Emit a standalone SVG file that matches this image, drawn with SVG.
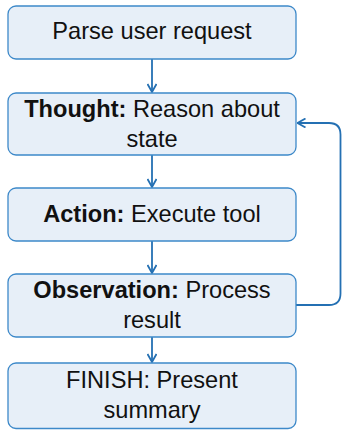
<svg xmlns="http://www.w3.org/2000/svg" width="342" height="430" viewBox="0 0 342 430">
<defs>
<style>
.box{fill:#e7eff8;stroke:#3d89c9;stroke-width:1.3}
.t{font-family:"Liberation Sans",Arial,sans-serif;font-size:23.6px;fill:#111;text-anchor:middle}
.b{font-weight:bold}
.c{fill:none;stroke:#2470b3;stroke-width:1.8}
</style>
<marker id="ah" viewBox="0 0 10 10" refX="9" refY="5" markerWidth="10" markerHeight="10" markerUnits="userSpaceOnUse" orient="auto">
<path d="M1,0.5 L9,5 L1,9.5" fill="none" stroke="#2470b3" stroke-width="1.8"/>
</marker>
</defs>
<rect width="342" height="430" fill="#fff"/>
<g id="connectors">
<line class="c" x1="152" y1="59" x2="152" y2="92" marker-end="url(#ah)"/>
<line class="c" x1="152" y1="155" x2="152" y2="187" marker-end="url(#ah)"/>
<line class="c" x1="152" y1="241" x2="152" y2="273" marker-end="url(#ah)"/>
<line class="c" x1="152" y1="337" x2="152" y2="362" marker-end="url(#ah)"/>
<path class="c" d="M296,305 H329 Q340.5,305 340.5,293.5 V134.5 Q340.5,123 329,123 H297.5" marker-end="url(#ah)"/>
</g>
<g id="n1">
<rect class="box" x="8" y="6" width="288" height="53" rx="8"/>
<text class="t" x="152" y="39">Parse user request</text>
</g>
<g id="n2">
<rect class="box" x="8" y="93" width="288" height="62" rx="8"/>
<text class="t" x="152" y="117"><tspan class="b">Thought:</tspan> Reason about</text>
<text class="t" x="152" y="147">state</text>
</g>
<g id="n3">
<rect class="box" x="8" y="188" width="288" height="53" rx="8"/>
<text class="t" x="152" y="222"><tspan class="b">Action:</tspan> Execute tool</text>
</g>
<g id="n4">
<rect class="box" x="8" y="274" width="288" height="63" rx="8"/>
<text class="t" x="152" y="298"><tspan class="b">Observation:</tspan> Process</text>
<text class="t" x="152" y="328">result</text>
</g>
<g id="n5">
<rect class="box" x="8" y="363" width="288" height="65.5" rx="8"/>
<text class="t" x="152" y="388">FINISH: Present</text>
<text class="t" x="152" y="418">summary</text>
</g>
</svg>
